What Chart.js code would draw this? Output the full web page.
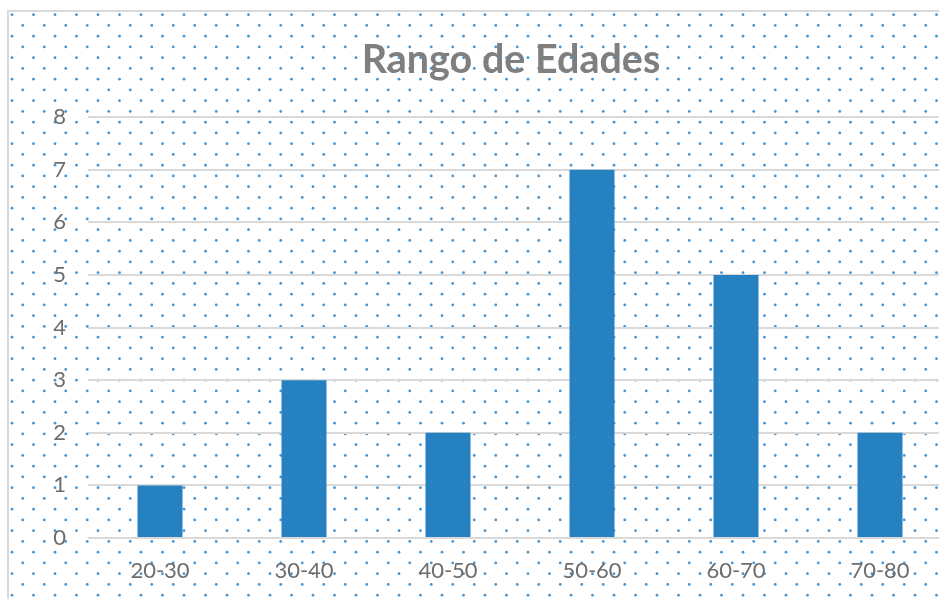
<!DOCTYPE html>
<html>
<head>
<meta charset="utf-8">
<script src="https://cdn.jsdelivr.net/npm/chart.js@4/dist/chart.umd.min.js"></script>
<style>
  html, body { margin: 0; padding: 0; overflow: hidden; background: #fff; }
  #wrap { position: absolute; left: 0; top: 0; width: 1022px; height: 599px; }
</style>
</head>
<body>
<div id="wrap"><canvas id="chartCanvas"></canvas></div>
<script>
// datos del gráfico
const rangos = ['20-30', '30-40', '40-50', '50-60', '60-70', '70-80'];
const cantidades = [1, 3, 2, 7, 5, 2];
const tituloGrafico = 'Rango de Edades';

// fondo punteado + marco (solo decoración)
const fondoPunteado = {
    id: 'fondoPunteado',
    beforeDraw(chart) {
        const ctx = chart.ctx;
        const w = chart.width, h = chart.height;
        ctx.save();
        ctx.fillStyle = '#fff';
        ctx.fillRect(0, 0, w, h);
        ctx.fillStyle = '#4596d4';
        const paso = 21.5;
        for (let j = 0; 14.7 + j * paso / 2 < h; j++) {
            const y = 14.7 + j * paso / 2;
            const off = (j % 2) ? paso / 2 : 0;
            for (let x = 12 + off; x < w; x += paso) {
                ctx.beginPath();
                ctx.arc(x, y, 1.4, 0, Math.PI * 2);
                ctx.fill();
            }
        }
        ctx.strokeStyle = '#d9d9d9';
        ctx.lineWidth = 2;
        ctx.beginPath();
        ctx.moveTo(8, h);
        ctx.lineTo(8, 11);
        ctx.lineTo(w, 11);
        ctx.stroke();
        ctx.restore();
    }
};

const fuente = 'Lato, "Open Sans", sans-serif';

new Chart(document.getElementById('chartCanvas'), {
    type: 'bar',
    data: {
        labels: rangos,
        datasets: [{
            data: cantidades,
            backgroundColor: '#2681c1',
            borderWidth: 0,
            categoryPercentage: 1,
            barPercentage: 0.3125
        }]
    },
    options: {
        responsive: true,
        maintainAspectRatio: false,
        animation: false,
        layout: { padding: 0 },
        plugins: {
            legend: { display: false },
            tooltip: { enabled: false },
            title: {
                display: true,
                text: tituloGrafico,
                color: '#7f7f7f',
                font: { family: fuente, size: 39.5, weight: 'bold' },
                padding: { top: 37, bottom: 32.6 }
            }
        },
        scales: {
            x: {
                afterFit(scale) { scale.height = 61; },
                grid: { display: false },
                border: { display: false },
                ticks: {
                    color: '#6d6d6d',
                    font: { family: fuente, size: 22 },
                    padding: 12
                }
            },
            y: {
                min: 0,
                max: 8,
                afterFit(scale) { scale.width = 88; },
                grid: { color: '#d9d9d9', lineWidth: 2, drawTicks: false },
                border: { display: false },
                ticks: {
                    stepSize: 1,
                    color: '#6d6d6d',
                    font: { family: fuente, size: 22 },
                    padding: 22
                }
            },
            // margen derecho vacío, para que el título quede centrado como en el original
            margenDer: {
                type: 'linear',
                position: 'right',
                afterFit(scale) { scale.width = 70; },
                grid: { display: false, drawOnChartArea: false },
                border: { display: false },
                ticks: { display: false }
            }
        }
    },
    plugins: [fondoPunteado]
});
</script>
</body>
</html>
